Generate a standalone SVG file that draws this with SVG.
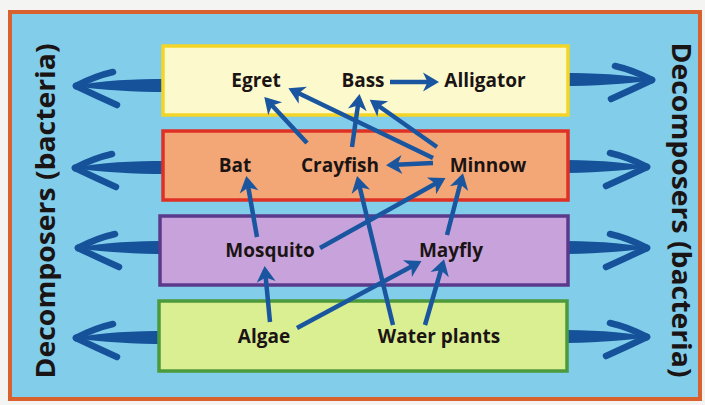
<svg xmlns="http://www.w3.org/2000/svg" xmlns:xlink="http://www.w3.org/1999/xlink" width="705" height="405" viewBox="0 0 705 405">
<style>
.lbl{font-family:"Open Sans","Liberation Sans",sans-serif;font-weight:700;font-size:19px;fill:#1b1414;text-anchor:middle}
.side{font-family:"Open Sans","Liberation Sans",sans-serif;font-weight:700;font-size:27px;fill:#1b1414;text-anchor:middle}
.con{stroke:#1a56a0;stroke-width:4.5;fill:none;marker-end:url(#ah)}
.band{stroke-width:3.5}
.big{fill:#15529a}
.barb{stroke:#15529a;stroke-width:6.5;stroke-linecap:round;fill:none}
</style>
<defs>
<marker id="ah" markerUnits="userSpaceOnUse" markerWidth="26" markerHeight="26" viewBox="-15 -13 26 26" refX="0" refY="0" orient="auto">
<path d="M4,0 L-12,-9.5 L-7.5,0 L-12,9.5 Z" fill="#1a56a0"/>
</marker>
<g id="bigL">
<path class="big" d="M0,0 C30,-6 60,-7 96,-7 L96,6 C60,6 30,4 0,0 Z"/>
<path class="barb" d="M3,0 Q22,-10 40,-14"/>
<path class="barb" d="M3,0 Q24,10 44,19"/>
</g>
</defs>
<rect x="0" y="0" width="705" height="405" fill="#f4f4f2"/>
<rect x="10" y="12" width="690" height="387" fill="#82cdea" stroke="#d9612e" stroke-width="4"/>
<g id="decomposers-arrows">
<use href="#bigL" transform="translate(73,86)"/>
<use href="#bigL" transform="translate(72,168)"/>
<use href="#bigL" transform="translate(75,248)"/>
<use href="#bigL" transform="translate(73,338)"/>
<use href="#bigL" transform="translate(655,80) scale(-1,1)"/>
<use href="#bigL" transform="translate(650,167) scale(-1,1)"/>
<use href="#bigL" transform="translate(650,248) scale(-1,1)"/>
<use href="#bigL" transform="translate(650,337) scale(-1,1)"/>
</g>
<g id="level-top"><rect class="band" x="163" y="46" width="405" height="69" fill="#fcf9cc" stroke="#f3d528"/></g>
<g id="level-consumers"><rect class="band" x="163" y="131" width="405" height="69" fill="#f4a776" stroke="#df3026"/></g>
<g id="level-primary"><rect class="band" x="160" y="216" width="408" height="69" fill="#c8a3db" stroke="#5b3a8c"/></g>
<g id="level-producers"><rect class="band" x="159" y="301" width="408" height="70" fill="#daee92" stroke="#4c9a3c"/></g>
<g id="connectors">
<path class="con" d="M307,143 L267,100"/>
<path class="con" d="M433,158 L292,90"/>
<path class="con" d="M352,147 L359,98"/>
<path class="con" d="M437,147 L373,102"/>
<path class="con" d="M433,163 L390,165"/>
<path class="con" d="M390,82 L435,82"/>
<path class="con" d="M257,237 L247,180"/>
<path class="con" d="M320,248 L442,180"/>
<path class="con" d="M447,235 L462,177"/>
<path class="con" d="M393,325 L358,180"/>
<path class="con" d="M270,322 L265,270"/>
<path class="con" d="M297,328 L418,263"/>
<path class="con" d="M425,325 L443,263"/>
</g>
<g id="egret"><text class="lbl" x="256" y="87">Egret</text></g>
<g id="bass"><text class="lbl" x="363" y="87">Bass</text></g>
<g id="alligator"><text class="lbl" x="485" y="87">Alligator</text></g>
<g id="bat"><text class="lbl" x="235" y="172">Bat</text></g>
<g id="crayfish"><text class="lbl" x="340" y="172">Crayfish</text></g>
<g id="minnow"><text class="lbl" x="488" y="172">Minnow</text></g>
<g id="mosquito"><text class="lbl" x="270" y="257">Mosquito</text></g>
<g id="mayfly"><text class="lbl" x="451" y="257">Mayfly</text></g>
<g id="algae"><text class="lbl" x="264" y="343">Algae</text></g>
<g id="water-plants"><text class="lbl" x="439" y="343">Water plants</text></g>
<g id="decomposers-left"><text class="side" transform="translate(55,211) rotate(-90)" textLength="335" lengthAdjust="spacingAndGlyphs">Decomposers (bacteria)</text></g>
<g id="decomposers-right"><text class="side" transform="translate(672,210) rotate(90)" textLength="335" lengthAdjust="spacingAndGlyphs">Decomposers (bacteria)</text></g>
</svg>
